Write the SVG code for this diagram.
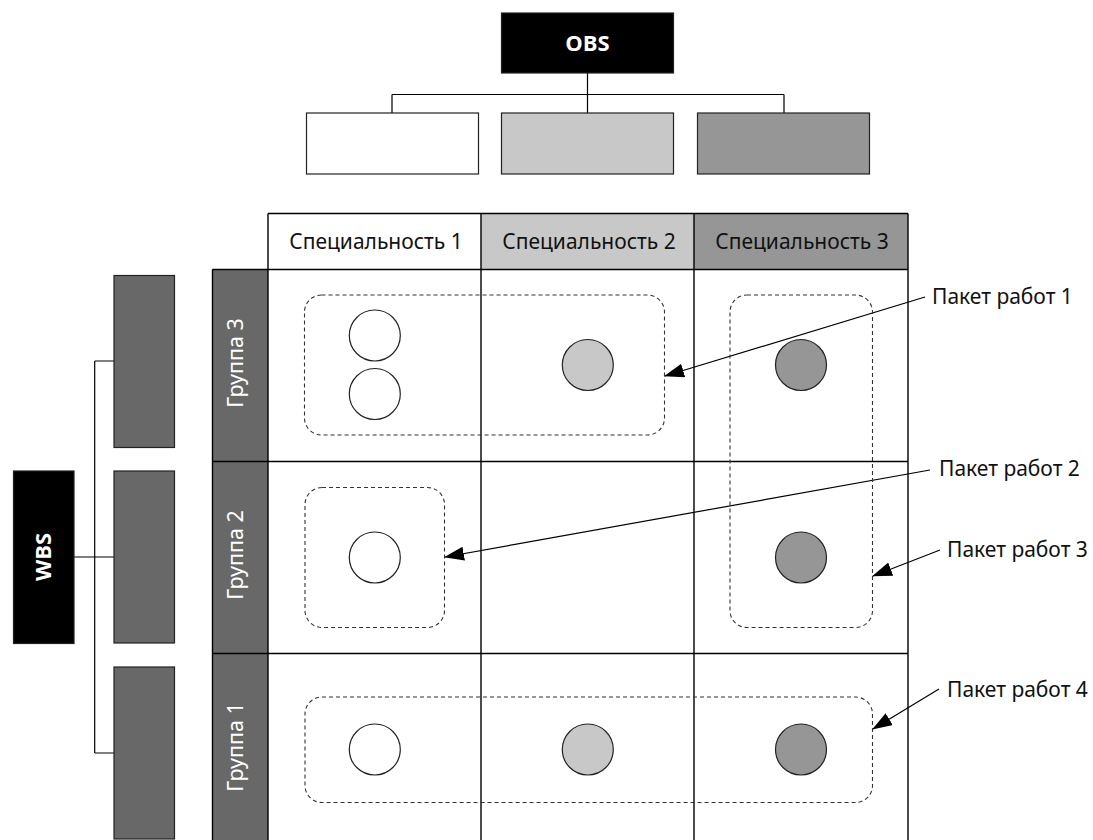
<svg xmlns="http://www.w3.org/2000/svg" width="1093" height="840" viewBox="0 0 1093 840">
<defs>
<style>
.ln{stroke:#000;stroke-width:1.2;fill:none}
.box{stroke:#222;stroke-width:1.2}
.grid{stroke:#000;stroke-width:1.4;fill:none}
.dash{stroke:#333;stroke-width:1.1;fill:none;stroke-dasharray:4 3}
.c{stroke:#222;stroke-width:1.2}
.w{fill:#fff}.l{fill:#c8c8c8}.m{fill:#969696}.d{fill:#686868}.k{fill:#000}
.t{font-family:"Noto Sans","Open Sans",sans-serif;font-size:21px;fill:#111}
.tb{font-family:"Open Sans","Noto Sans",sans-serif;font-size:22px;font-weight:bold;fill:#fff}
.tg{font-family:"Noto Sans","Open Sans",sans-serif;font-size:21.5px;fill:#fff}
.arr{stroke:#000;stroke-width:1.2;fill:none;marker-end:url(#ah)}
</style>
<marker id="ah" viewBox="0 0 20 14" refX="19" refY="7" markerWidth="20" markerHeight="14" markerUnits="userSpaceOnUse" orient="auto">
<path d="M0,0 L20,7 L0,14 Z" fill="#000"/>
</marker>
</defs>
<rect width="1093" height="840" fill="#fff"/>

<g id="connectors">
<path class="ln" d="M587.5,73 V113 M392,94.5 H784 M392,94.5 V113 M784,94.5 V113"/>
<path class="ln" d="M74,557 H114 M94.7,361 V753 M94.7,361 H114 M94.7,753 H114"/>
<path class="arr" d="M925,297 L665,376"/>
<path class="arr" d="M930,470 L445,557"/>
<path class="arr" d="M940,550 L873,576"/>
<path class="arr" d="M939,689 L873,729"/>
</g>

<g id="obs"><rect class="box k" x="501.5" y="13" width="172" height="60"/><text class="tb" x="587.5" y="50.5" text-anchor="middle">OBS</text></g>
<g id="obs1"><rect class="box w" x="306.5" y="113" width="172" height="61"/></g>
<g id="obs2"><rect class="box l" x="501.5" y="113" width="172" height="61"/></g>
<g id="obs3"><rect class="box m" x="697.5" y="113" width="172" height="61"/></g>

<g id="wbs"><rect class="box k" x="13.5" y="471" width="60.5" height="172.5"/><text class="tb" transform="translate(51,557) rotate(-90)" text-anchor="middle">WBS</text></g>
<g id="wbs1"><rect class="box d" x="114" y="275.5" width="60.5" height="172"/></g>
<g id="wbs2"><rect class="box d" x="114" y="471" width="60.5" height="172"/></g>
<g id="wbs3"><rect class="box d" x="114" y="667" width="60.5" height="172"/></g>

<g id="header">
<rect class="w" x="268" y="213.5" width="213" height="56"/>
<rect class="l" x="481" y="213.5" width="213" height="56"/>
<rect class="m" x="694" y="213.5" width="214" height="56"/>
<text class="t" x="376" y="248.5" text-anchor="middle">Специальность 1</text>
<text class="t" x="589" y="248.5" text-anchor="middle">Специальность 2</text>
<text class="t" x="802" y="248.5" text-anchor="middle">Специальность 3</text>
</g>

<g id="groups">
<rect class="d" x="212.5" y="269.5" width="55.5" height="192"/>
<rect class="d" x="212.5" y="461.5" width="55.5" height="192"/>
<rect class="d" x="212.5" y="653.5" width="55.5" height="190"/>
<path class="grid" d="M212.5,269.5 V840"/>
<text class="tg" transform="translate(243,363) rotate(-90)" text-anchor="middle">Группа 3</text>
<text class="tg" transform="translate(243,555) rotate(-90)" text-anchor="middle">Группа 2</text>
<text class="tg" transform="translate(243,747) rotate(-90)" text-anchor="middle">Группа 1</text>
</g>

<g id="grid">
<path class="grid" d="M268,213.5 H908 M212.5,269.5 H908 M212.5,461.5 H908 M212.5,653.5 H908 M268,213.5 V840 M481,213.5 V840 M694,213.5 V840 M908,213.5 V840"/>
</g>

<g id="packages">
<rect class="dash" x="304.5" y="295" width="360" height="140" rx="17"/>
<rect class="dash" x="730" y="295" width="142.5" height="332.5" rx="17"/>
<rect class="dash" x="305" y="487.5" width="139.5" height="140" rx="17"/>
<rect class="dash" x="305" y="697" width="567.5" height="105.5" rx="17"/>
</g>

<g id="circles">
<circle class="c w" cx="374.8" cy="335.5" r="25.5"/>
<circle class="c w" cx="374.8" cy="394" r="25.5"/>
<circle class="c l" cx="587.8" cy="365" r="25.5"/>
<circle class="c m" cx="801" cy="365" r="25.5"/>
<circle class="c w" cx="374.8" cy="557.5" r="25.5"/>
<circle class="c m" cx="801" cy="557.5" r="25.5"/>
<circle class="c w" cx="374.8" cy="749.5" r="25.5"/>
<circle class="c l" cx="587.8" cy="749.5" r="25.5"/>
<circle class="c m" cx="801" cy="749.5" r="25.5"/>
</g>

<g id="labels">
<text class="t" x="932" y="304">Пакет работ 1</text>
<text class="t" x="939" y="476">Пакет работ 2</text>
<text class="t" x="947" y="557">Пакет работ 3</text>
<text class="t" x="947" y="697">Пакет работ 4</text>
</g>
</svg>
